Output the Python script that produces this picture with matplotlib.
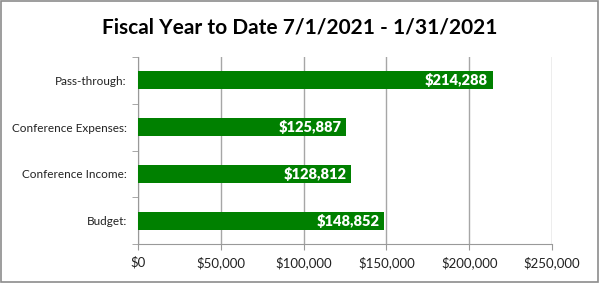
import matplotlib
matplotlib.use("Agg")
import matplotlib.pyplot as plt
from matplotlib.patches import Rectangle
from matplotlib.ticker import FuncFormatter, FixedLocator

categories = ["Budget:", "Conference Income:", "Conference Expenses:", "Pass-through:"]
values = [148852, 128812, 125887, 214288]
title = "Fiscal Year to Date 7/1/2021 - 1/31/2021"

plt.rcParams['font.family'] = ['Lato', 'DejaVu Sans']

fig = plt.figure(figsize=(6.0, 2.83), dpi=100)
ax = fig.add_axes([138/600, 1-244/283, (552-138)/600, (244-57)/283])

y = list(range(len(categories)))
ax.barh(y, values, height=0.39, color="#008000", zorder=3)
for yi, v in zip(y, values):
    ax.text(v - 3000, yi, f"${v:,.0f}", ha="right", va="center", color="white",
            fontsize=10.5, fontweight="heavy", zorder=4)

ax.set_xlim(0, 250000)
ax.set_ylim(-0.5, len(categories) - 0.5)
ax.xaxis.set_major_locator(FixedLocator([0, 50000, 100000, 150000, 200000, 250000]))
ax.xaxis.set_major_formatter(FuncFormatter(lambda x, p: f"${x:,.0f}"))
ax.set_yticks(y)
ax.set_yticklabels(categories)
ax.set_yticks([i - 0.5 for i in range(len(categories) + 1)], minor=True)
ax.tick_params(axis="y", which="major", length=0, labelsize=8.5, pad=8, colors="#222222")
ax.tick_params(axis="y", which="minor", length=4, color="#999999")
ax.tick_params(axis="x", which="major", length=4, color="#999999", labelsize=9.5, pad=5, labelcolor="#222222")
ax.grid(axis="x", color="#a6a6a6", linewidth=1, zorder=0)
for s in ["top", "right"]:
    ax.spines[s].set_visible(False)
ax.spines["left"].set_color("#999999")
ax.spines["bottom"].set_color("#999999")

fig.text(0.5, 1 - 27/283, title, ha="center", va="center", fontsize=15, fontweight="bold")
fig.patches.append(Rectangle((0.002, 0.004), 0.995, 0.992, transform=fig.transFigure,
                             fill=False, edgecolor="#8c8c8c", linewidth=1.2))
fig.savefig("out.png", dpi=100)
